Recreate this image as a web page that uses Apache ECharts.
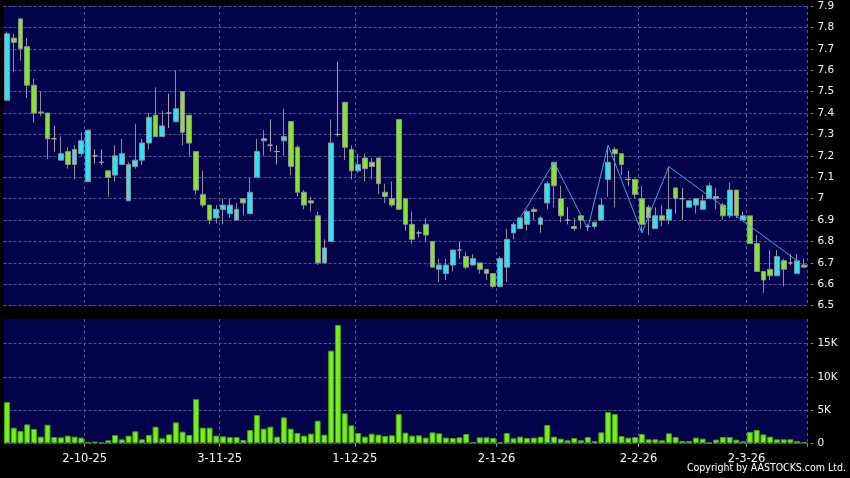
<!DOCTYPE html>
<html>
<head>
<meta charset="utf-8">
<script src="https://cdn.jsdelivr.net/npm/echarts@6/dist/echarts.min.js"></script>
<style>
html,body{margin:0;padding:0;background:#000;}
#c{width:850px;height:478px;}
</style>
</head>
<body>
<div id="c"></div>
<script>
// ---- data ----
const dates = [
 '15-9-25','16-9-25','17-9-25','18-9-25','19-9-25','22-9-25','23-9-25','24-9-25','25-9-25','26-9-25','29-9-25','30-9-25',
 '2-10-25','3-10-25','6-10-25','8-10-25','9-10-25','10-10-25','13-10-25','14-10-25','15-10-25','16-10-25','17-10-25','20-10-25','21-10-25','22-10-25','23-10-25','24-10-25','27-10-25','28-10-25','30-10-25','31-10-25',
 '3-11-25','4-11-25','5-11-25','6-11-25','7-11-25','10-11-25','11-11-25','12-11-25','13-11-25','14-11-25','17-11-25','18-11-25','19-11-25','20-11-25','21-11-25','24-11-25','25-11-25','26-11-25','27-11-25','28-11-25',
 '1-12-25','2-12-25','3-12-25','4-12-25','5-12-25','8-12-25','9-12-25','10-12-25','11-12-25','12-12-25','15-12-25','16-12-25','17-12-25','18-12-25','19-12-25','22-12-25','23-12-25','24-12-25','29-12-25','30-12-25','31-12-25',
 '2-1-26','5-1-26','6-1-26','7-1-26','8-1-26','9-1-26','12-1-26','13-1-26','14-1-26','15-1-26','16-1-26','19-1-26','20-1-26','21-1-26','22-1-26','23-1-26','26-1-26','27-1-26','28-1-26','29-1-26','30-1-26',
 '2-2-26','3-2-26','4-2-26','5-2-26','6-2-26','9-2-26','10-2-26','11-2-26','12-2-26','13-2-26','20-2-26','23-2-26','24-2-26','25-2-26','26-2-26','27-2-26',
 '2-3-26','3-3-26','4-3-26','5-3-26','6-3-26','9-3-26','10-3-26','11-3-26','12-3-26'
];
const opens = [
 7.46,7.75,7.84,7.71,7.53,7.405,7.40,7.28,7.18,7.22,
 7.16,7.21,7.08,7.20,7.17,7.13,7.11,7.16,6.99,7.15,
 7.18,7.26,7.39,7.29,7.40,7.36,7.50,7.39,7.22,7.02,
 6.97,6.91,6.95,6.93,6.90,7.00,6.93,7.10,7.27,7.25,
 7.22,7.27,7.36,7.24,7.03,6.99,6.92,6.70,6.80,7.30,
 7.45,7.23,7.13,7.19,7.17,7.19,7.03,7.00,7.37,7.00,
 6.88,6.84,6.88,6.80,6.67,6.65,6.69,6.76,6.73,6.69,
 6.70,6.67,6.65,6.59,6.68,6.84,6.86,6.88,6.95,6.88,
 6.98,7.17,7.00,6.90,6.87,6.92,6.87,6.87,6.90,7.09,
 7.23,7.21,7.09,7.09,7.00,6.96,6.86,6.92,6.90,7.05,
 7.00,6.96,6.97,6.95,7.00,7.01,6.97,6.92,7.04,6.90,
 6.92,6.79,6.66,6.67,6.64,6.71,6.70,6.65,6.69
];
const closes = [
 7.77,7.73,7.70,7.53,7.40,7.40,7.28,7.28,7.21,7.16,
 7.23,7.27,7.32,7.20,7.17,7.10,7.20,7.21,7.16,7.18,
 7.26,7.38,7.29,7.34,7.40,7.42,7.31,7.26,7.04,6.97,
 6.90,6.95,6.97,6.97,6.95,6.98,7.03,7.22,7.28,7.25,
 7.22,7.29,7.15,7.03,6.97,6.98,6.70,6.77,7.26,7.30,
 7.24,7.13,7.16,7.14,7.15,7.07,7.01,6.97,6.95,6.88,
 6.81,6.84,6.83,6.68,6.69,6.69,6.76,6.76,6.68,6.72,
 6.67,6.65,6.59,6.72,6.81,6.88,6.91,6.94,6.94,6.91,
 7.07,7.06,6.92,6.90,6.86,6.90,6.87,6.89,6.97,7.17,
 7.21,7.16,7.09,7.02,6.88,6.91,6.92,6.90,6.95,7.00,
 7.00,6.99,7.00,6.99,7.06,7.00,6.92,7.04,6.92,6.92,
 6.79,6.66,6.62,6.64,6.73,6.67,6.70,6.71,6.68
];
const lows = [
 7.46,7.59,7.645,7.47,7.355,7.385,7.185,7.22,7.18,7.14,
 7.09,7.20,7.08,7.165,7.157,7.01,7.08,7.16,6.99,7.14,
 7.157,7.23,7.29,7.29,7.33,7.36,7.25,7.20,7.02,6.96,
 6.88,6.885,6.88,6.91,6.90,6.92,6.93,7.10,7.20,7.22,
 7.16,7.20,7.11,7.01,6.95,6.94,6.69,6.70,6.80,7.29,
 7.18,7.09,7.12,7.08,7.09,7.02,6.98,6.96,6.95,6.85,
 6.79,6.82,6.80,6.68,6.61,6.62,6.66,6.72,6.67,6.69,
 6.65,6.62,6.58,6.59,6.61,6.81,6.86,6.85,6.90,6.84,
 6.95,6.96,6.89,6.88,6.85,6.86,6.85,6.86,6.90,7.01,
 6.96,7.11,7.06,7.00,6.84,6.83,6.86,6.87,6.88,6.93,
 6.90,6.96,6.93,6.95,7.00,6.95,6.90,6.91,6.91,6.90,
 6.79,6.66,6.56,6.62,6.64,6.59,6.69,6.65,6.68
];
const highs = [
 7.78,7.77,7.84,7.75,7.56,7.50,7.40,7.34,7.29,7.24,
 7.25,7.31,7.32,7.23,7.23,7.13,7.25,7.28,7.17,7.35,
 7.28,7.40,7.52,7.41,7.49,7.60,7.50,7.39,7.22,7.13,
 6.97,6.97,7.00,7.00,6.98,7.00,7.10,7.28,7.32,7.37,
 7.25,7.42,7.36,7.25,7.04,7.01,6.94,6.81,7.37,7.64,
 7.45,7.25,7.21,7.21,7.19,7.19,7.07,7.08,7.37,7.00,
 6.94,6.85,6.91,6.80,6.72,6.72,6.76,6.80,6.75,6.74,
 6.70,6.67,6.65,6.73,6.86,6.89,6.91,6.95,6.96,6.92,
 7.08,7.17,7.06,6.96,6.91,6.92,6.88,6.89,7.00,7.24,
 7.24,7.21,7.13,7.09,7.06,6.97,6.96,6.97,7.15,7.05,
 7.05,6.99,7.00,7.02,7.075,7.05,6.98,7.075,7.04,6.94,
 6.92,6.83,6.66,6.76,6.76,6.72,6.74,6.74,6.72
];
const volumes = [
 6200,2350,1850,2850,2150,1000,2800,950,900,1150,
 1000,850,200,250,100,450,1250,600,1150,1800,
 600,1250,2500,750,1350,3150,1750,1250,6650,2350,
 2350,1150,1050,950,950,500,2000,4250,2200,2500,
 1000,3900,2200,1550,1150,1450,3400,1300,13950,17820,
 4500,2700,1550,1000,1450,1300,1100,1200,4400,1600,
 1150,1200,850,1650,1500,850,800,900,1400,200,
 900,900,800,100,1550,750,1000,800,850,1000,
 2750,1000,700,450,800,450,950,350,1650,4700,
 4400,1100,850,950,1400,600,600,450,1500,950,
 350,350,850,700,100,550,950,950,550,300,
 1700,2000,1350,1000,600,600,600,350,200
];
const tickLabels = ['2-10-25','3-11-25','1-12-25','2-1-26','2-2-26','2-3-26'];
const zigzagDates = ['7-1-26','14-1-26','21-1-26','26-1-26','2-2-26','6-2-26','11-3-26'];
const zigzagValues = [6.91,7.17,6.86,7.25,6.84,7.15,6.71];

// ---- chart ----
const NAVY = '#03034b';
const GRIDC = '#585896';
const candles = dates.map((d, i) => [opens[i], closes[i], lows[i], highs[i]]);
const isTick = (idx) => tickLabels.indexOf(dates[idx]) >= 0;
const dashRich = { d: { color: '#9a9aa0', fontSize: 10.5, fontFamily: 'DejaVu Sans' } };

const chart = echarts.init(document.getElementById('c'), null, { renderer: 'canvas' });
chart.setOption({
  backgroundColor: '#000',
  animation: false,
  grid: [
    { left: 3.6, top: 6, width: 803.7, height: 299.7, show: true, backgroundColor: NAVY, borderWidth: 0 },
    { left: 3.6, top: 319, width: 803.7, height: 124.3, show: true, backgroundColor: NAVY, borderWidth: 0 }
  ],
  xAxis: [
    {
      type: 'category', gridIndex: 0, data: dates, boundaryGap: true,
      axisLine: { show: false }, axisTick: { show: false }, axisLabel: { show: false },
      splitLine: { show: true, interval: (i) => isTick(i), lineStyle: { color: GRIDC, width: 1, type: [3, 3] } }
    },
    {
      type: 'category', gridIndex: 1, data: dates, boundaryGap: true, offset: 3,
      axisLine: { show: false },
      axisTick: { show: true, interval: (i) => isTick(i), length: 3.5, lineStyle: { color: '#9a9aa0' } },
      axisLabel: {
        interval: (i) => isTick(i), color: '#f4f4f4', fontSize: 11.5, fontFamily: 'DejaVu Sans',
        margin: 7, padding: [0, 6.75, 0, 0]
      },
      splitLine: { show: true, interval: (i) => isTick(i), lineStyle: { color: GRIDC, width: 1, type: [3, 3] } }
    }
  ],
  yAxis: [
    {
      type: 'value', gridIndex: 0, position: 'right', min: 6.5, max: 7.9, interval: 0.1,
      axisLine: { show: false }, axisTick: { show: false },
      axisLabel: {
        margin: 3, color: '#f4f4f4', fontSize: 10.5, fontFamily: 'DejaVu Sans',
        formatter: (v) => '{d|-} ' + String(Math.round(v * 10) / 10), rich: dashRich
      },
      splitLine: { show: true, lineStyle: { color: GRIDC, width: 1, type: [3, 2] } }
    },
    {
      type: 'value', gridIndex: 1, position: 'right', min: 0, max: 18711, interval: 5000,
      axisLine: { show: false }, axisTick: { show: false },
      axisLabel: {
        margin: 3, color: '#f4f4f4', fontSize: 10.5, fontFamily: 'DejaVu Sans', showMaxLabel: false,
        formatter: (v) => '{d|-} ' + (v === 0 ? '0' : (v / 1000) + 'K'), rich: dashRich
      },
      splitLine: { show: true, showMaxLine: false, lineStyle: { color: GRIDC, width: 1, type: [3, 2] } }
    }
  ],
  series: [
    {
      type: 'candlestick', xAxisIndex: 0, yAxisIndex: 0, data: candles, barWidth: '78%',
      itemStyle: {
        color: '#2ce3f2', color0: '#86e52a',
        borderColor: '#8e8e9a', borderColor0: '#8e8e9a', borderColorDoji: '#a6a6b0', borderWidth: 1
      }
    },
    {
      type: 'line', xAxisIndex: 0, yAxisIndex: 0, z: 5,
      data: zigzagDates.map((d, i) => [d, zigzagValues[i]]),
      symbol: 'none', lineStyle: { color: '#42a2e6', width: 1 }
    },
    {
      type: 'bar', xAxisIndex: 1, yAxisIndex: 1, data: volumes, barCategoryGap: '12%',
      itemStyle: { color: '#74f01a', borderColor: '#4c9c16', borderWidth: 1 }
    }
  ],
  graphic: [
    {
      type: 'text', right: 4, top: 463,
      style: { text: 'Copyright by AASTOCKS.com Ltd.', fill: '#ffffff', font: '10.5px "DejaVu Sans Condensed", "DejaVu Sans", sans-serif' }
    }
  ]
});
</script>
</body>
</html>
